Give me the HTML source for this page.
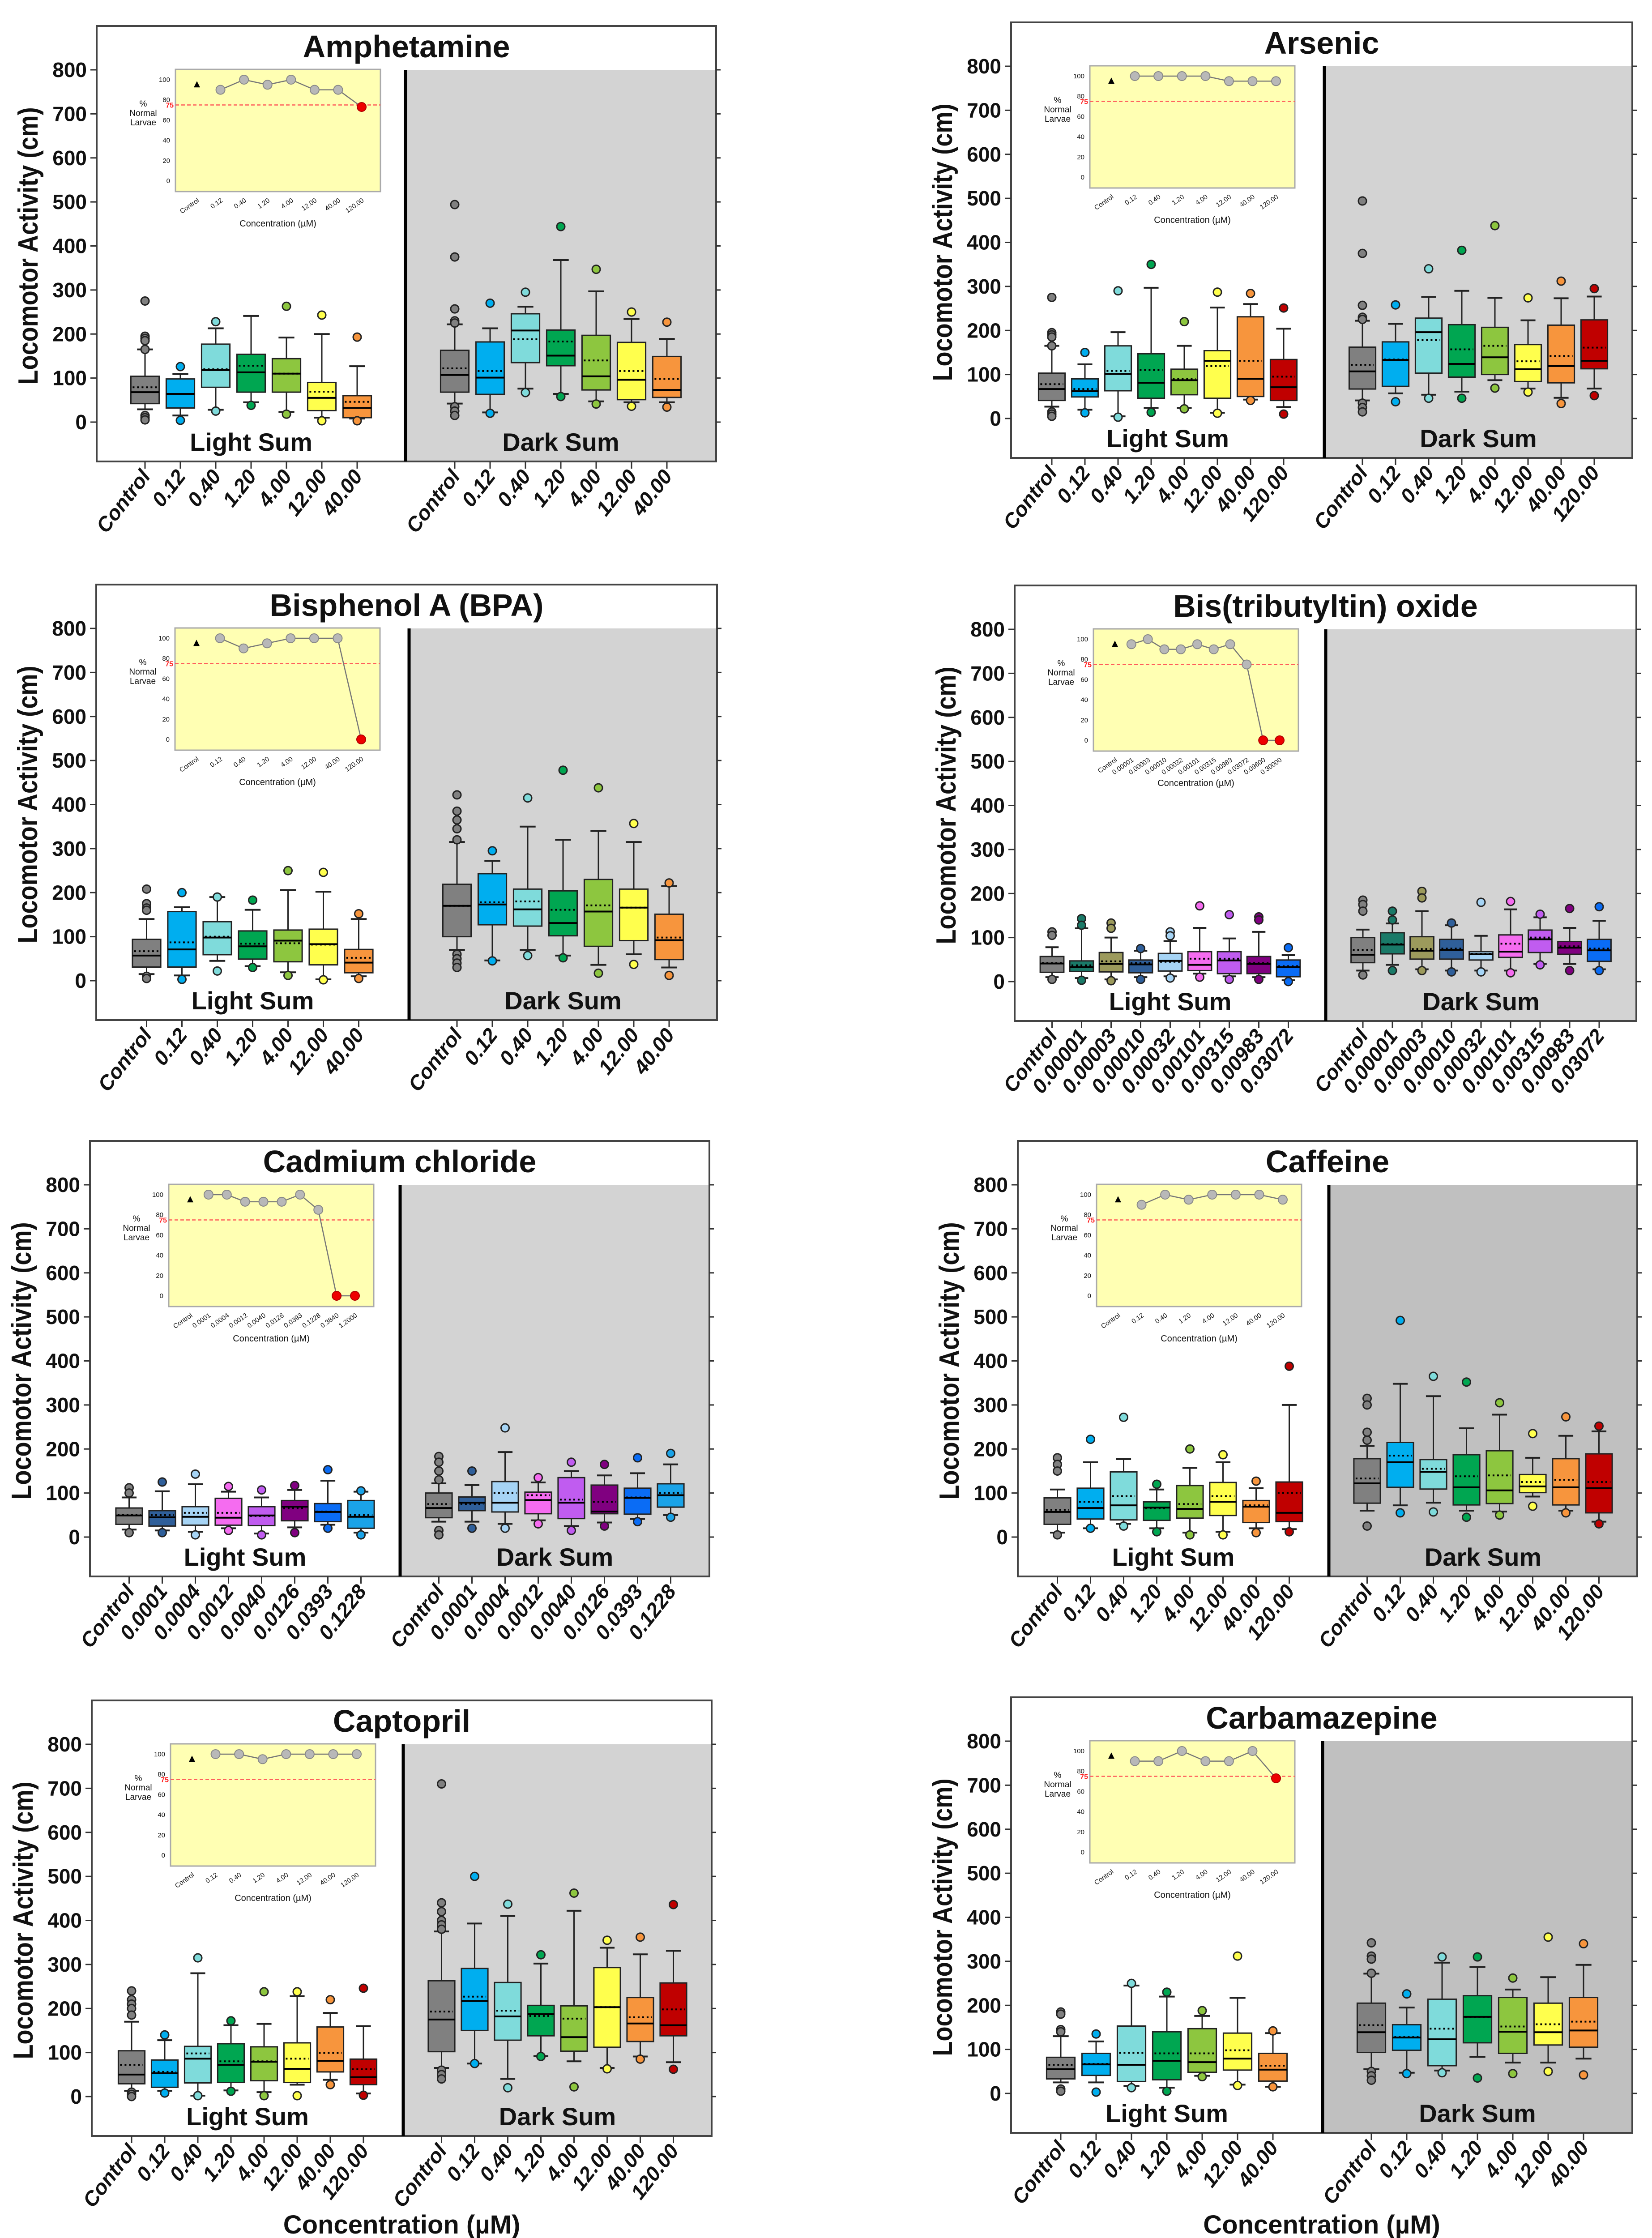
<!DOCTYPE html>
<html><head><meta charset="utf-8"><style>
html,body{margin:0;padding:0;background:#fff;width:3691px;height:5057px;overflow:hidden;}
svg{display:block;position:absolute;left:0;top:0;}
text{font-family:"Liberation Sans Narrow","Liberation Sans",sans-serif;font-weight:bold;fill:#111;}
</style></head><body>
<svg id="fig" xmlns="http://www.w3.org/2000/svg" width="3691" height="5057" viewBox="0 0 3691 5057" overflow="hidden">
<rect x="0" y="0" width="3691" height="5057" fill="#fff"/>
</svg>
<script>
// ---------- data: [q1, median, q3, whiskerLow, whiskerHigh, mean, [outliers]] ----------
const yTicks = [0,100,200,300,400,500,600,700,800];
const insetYTicks = [0,20,40,60,80,100];
const cats7 = ["Control","0.12","0.40","1.20","4.00","12.00","40.00"];
const cats8 = ["Control","0.12","0.40","1.20","4.00","12.00","40.00","120.00"];
const insetCats8 = ["Control","0.12","0.40","1.20","4.00","12.00","40.00","120.00"];
const catsBis = ["Control","0.00001","0.00003","0.00010","0.00032","0.00101","0.00315","0.00983","0.03072"];
const insetCatsBis = ["Control","0.00001","0.00003","0.00010","0.00032","0.00101","0.00315","0.00983","0.03072","0.09600","0.30000"];
const catsCad = ["Control","0.0001","0.0004","0.0012","0.0040","0.0126","0.0393","0.1228"];
const insetCatsCad = ["Control","0.0001","0.0004","0.0012","0.0040","0.0126","0.0393","0.1228","0.3840","1.2000"];

const colorsStd = ["#808080","#00aeef","#7fdbdb","#00a651","#8dc63f","#ffff4d","#f7953d","#c00000"];
const colorsBis = ["#808080","#1a7a68","#9c9a5c","#2f5f9a","#a6d4f5","#f56cf0","#c05cf0","#800080","#0a6cf5"];
const colorsCad = ["#808080","#2f5f9a","#a6d4f5","#f56cf0","#c05cf0","#800080","#0a6cf5","#1aa3e8"];

const ampLight = [[42,68,104,29,165,79,[275,195,190,185,165,15,10,5]],[32,64,98,15,109,64,[126,4]],[79,118,177,28,213,120,[228,25]],[68,113,154,45,241,128,[38]],[68,110,144,23,192,110,[263,18]],[26,55,90,10,200,69,[243,3]],[10,32,60,8,127,46,[193,3]]];
const ampDark = [[68,107,163,42,222,122,[494,375,257,230,225,35,25,15]],[63,101,182,22,213,116,[270,20]],[135,208,246,76,262,188,[295,67]],[128,151,209,64,368,183,[444,58]],[73,104,197,47,297,140,[347,41]],[51,96,181,45,234,116,[250,36]],[56,73,149,45,189,98,[227,34]]];
const ampInset = [95,90,100,95,100,90,90,73];

const arsLight = [[41,67,103,27,165,78,[275,195,190,185,165,15,10,5]],[49,62,90,20,123,67,[150,13]],[63,101,165,5,196,108,[290,3]],[46,81,147,24,297,110,[350,14]],[54,87,112,24,165,90,[220,22]],[46,131,154,13,252,119,[287,12]],[50,90,231,43,260,131,[284,41]],[41,71,134,26,204,95,[251,10]]];
const arsDark = [[67,107,162,41,222,122,[494,375,257,230,225,35,25,15]],[73,133,174,57,215,134,[258,38]],[103,196,228,54,276,178,[340,46]],[94,124,213,61,290,157,[382,46]],[100,139,207,87,274,165,[438,69]],[84,112,168,68,223,130,[274,60]],[81,119,212,47,273,142,[312,34]],[113,131,224,68,277,161,[295,52]]];
const arsInset = [95,100,100,100,100,95,95,95];

const bpaLight = [[31,57,94,15,140,67,[208,175,165,160,10,5]],[31,71,157,12,167,87,[200,3]],[59,98,134,45,190,100,[190,22]],[49,78,113,33,161,84,[183,30]],[43,91,115,19,206,85,[250,12]],[36,83,117,3,202,82,[246,2]],[18,41,71,10,140,52,[152,5]]];
const bpaDark = [[100,170,219,70,315,170,[422,385,365,345,320,60,50,40,30]],[127,173,243,46,272,178,[295,45]],[124,162,208,70,350,180,[415,57]],[102,131,204,57,320,161,[478,52]],[78,157,230,36,340,171,[438,17]],[91,166,208,60,315,166,[357,37]],[48,92,151,30,215,98,[222,12]]];
const bpaInset = [95,100,90,95,100,100,100,0];

const bisLight = [[21,41,57,10,78,42,[113,105,5]],[23,33,47,8,121,37,[143,128,3]],[22,40,66,5,100,46,[133,121,2]],[20,39,49,10,70,42,[75,5]],[24,47,64,12,92,45,[113,104,8]],[25,38,68,18,122,52,[172,10]],[18,48,68,12,98,52,[152,5]],[18,40,57,10,113,42,[147,140,5]],[11,33,49,3,60,35,[77,0]]];
const bisDark = [[43,61,100,25,118,72,[185,175,160,15]],[63,84,111,38,132,85,[160,140,25]],[51,70,102,28,160,74,[205,190,25]],[51,72,96,25,128,75,[133,22]],[49,62,68,25,104,63,[180,22]],[55,68,106,25,164,86,[182,20]],[66,96,117,40,146,100,[153,38]],[62,77,91,40,122,80,[166,25]],[46,71,96,28,138,75,[170,25]]];
const bisInset = [95,95,100,90,90,95,90,95,75,0,0];

const cadLight = [[29,49,66,17,90,50,[112,100,10]],[25,45,60,15,104,50,[125,10]],[27,46,69,12,120,55,[143,5]],[27,44,88,20,103,55,[115,15]],[26,49,69,8,90,48,[107,5]],[37,69,83,22,107,65,[117,10]],[35,57,76,28,128,58,[153,20]],[20,46,83,10,103,50,[105,5]]];
const cadDark = [[44,66,100,35,122,75,[183,170,150,130,15,5]],[60,78,91,35,118,75,[150,20]],[57,78,126,30,193,100,[248,20]],[53,84,102,38,124,95,[135,30]],[42,78,135,25,150,85,[170,15]],[53,58,118,33,140,80,[165,25]],[52,89,111,41,145,90,[180,35]],[68,95,121,50,165,100,[190,45]]];
const cadInset = [95,100,100,93,93,93,100,85,0,0];

const cafLight = [[29,57,89,10,108,62,[180,165,150,5]],[41,66,111,20,170,80,[222,20]],[39,72,148,30,177,93,[272,25]],[38,67,80,20,108,65,[120,12]],[43,64,117,10,157,75,[200,5]],[49,80,124,12,170,93,[187,5]],[33,69,83,20,111,72,[127,10]],[35,55,125,18,300,100,[388,12]]];
const cafDark = [[77,122,178,60,207,133,[315,300,238,220,25]],[113,170,215,72,348,185,[492,55]],[109,148,176,78,320,155,[365,57]],[73,113,187,60,247,138,[352,45]],[76,106,196,58,278,140,[305,50]],[101,115,142,92,180,125,[235,70]],[73,113,178,60,230,130,[273,55]],[55,111,189,35,240,125,[252,30]]];
const cafInset = [95,90,100,95,100,100,100,95];

const capLight = [[29,50,104,13,170,72,[240,220,210,200,185,10,5,0]],[21,53,83,13,128,56,[140,8]],[31,86,114,2,280,98,[315,2]],[32,72,120,14,162,80,[172,12]],[36,79,113,10,165,80,[238,2]],[32,63,122,27,228,86,[238,2]],[56,81,158,38,190,99,[220,27]],[27,44,85,7,160,62,[246,3]]];
const capDark = [[102,175,263,65,375,193,[710,440,420,400,390,380,60,50,40]],[150,217,291,75,393,227,[500,75]],[128,182,259,40,410,195,[437,20]],[138,187,207,92,302,183,[322,91]],[103,135,206,80,422,177,[462,22]],[112,203,293,65,338,203,[355,63]],[125,166,225,91,323,180,[362,85]],[138,162,258,78,331,198,[436,62]]];
const capInset = [95,100,100,95,100,100,100,100];

const carLight = [[33,55,82,25,130,65,[185,180,145,140,10,5]],[41,66,91,25,118,67,[135,3]],[27,65,153,17,245,92,[250,13]],[31,74,140,13,220,91,[230,5]],[48,71,147,40,176,91,[188,38]],[53,79,137,20,217,98,[312,18]],[28,54,91,15,137,63,[142,15]]];
const carDark = [[93,139,205,55,272,155,[342,312,305,273,50,40,30]],[98,127,156,47,195,128,[226,45]],[63,123,214,52,297,147,[310,47]],[115,174,222,83,287,173,[310,35]],[91,140,218,70,236,152,[262,45]],[110,139,205,70,264,157,[355,50]],[105,143,218,79,292,163,[340,42]]];
const carInset = [95,90,90,100,90,90,100,73];

// ---------- panel configs (geometry only) ----------
const panels = [
 {key:"amphetamine",title:"Amphetamine",L:216,T:58,D:906,R:1600,cats:cats7,light:ampLight,dark:ampDark,colors:colorsStd,icats:insetCats8,ivals:ampInset,bg:"#d3d3d3",xt:false},
 {key:"arsenic",title:"Arsenic",L:2259,T:50,D:2959,R:3647,cats:cats8,light:arsLight,dark:arsDark,colors:colorsStd,icats:insetCats8,ivals:arsInset,bg:"#d3d3d3",xt:false},
 {key:"bpa",title:"Bisphenol A (BPA)",L:215,T:1306,D:914,R:1602,cats:cats7,light:bpaLight,dark:bpaDark,colors:colorsStd,icats:insetCats8,ivals:bpaInset,bg:"#d3d3d3",xt:false},
 {key:"bis-tributyltin-oxide",title:"Bis(tributyltin) oxide",L:2267,T:1308,D:2962,R:3656,cats:catsBis,light:bisLight,dark:bisDark,colors:colorsBis,icats:insetCatsBis,ivals:bisInset,bg:"#d3d3d3",xt:false},
 {key:"cadmium-chloride",title:"Cadmium chloride",L:201,T:2549,D:894,R:1585,cats:catsCad,light:cadLight,dark:cadDark,colors:colorsCad,icats:insetCatsCad,ivals:cadInset,bg:"#d3d3d3",xt:false},
 {key:"caffeine",title:"Caffeine",L:2274,T:2549,D:2969,R:3658,cats:cats8,light:cafLight,dark:cafDark,colors:colorsStd,icats:insetCats8,ivals:cafInset,bg:"#c0c0c0",xt:false},
 {key:"captopril",title:"Captopril",L:205,T:3799,D:901,R:1590,cats:cats8,light:capLight,dark:capDark,colors:colorsStd,icats:insetCats8,ivals:capInset,bg:"#d3d3d3",xt:true},
 {key:"carbamazepine",title:"Carbamazepine",L:2259,T:3792,D:2955,R:3647,cats:cats7,light:carLight,dark:carDark,colors:colorsStd,icats:insetCats8,ivals:carInset,bg:"#c0c0c0",xt:true}
];

const NS = "http://www.w3.org/2000/svg";
const svg = document.getElementById("fig");
function mk(parent, tag, attrs, txt){
  const e = document.createElementNS(NS, tag);
  for (const k in attrs) e.setAttribute(k, attrs[k]);
  if (txt !== undefined) e.textContent = txt;
  parent.appendChild(e);
  return e;
}

function drawPanel(p){
  const g = mk(svg, "g", {});
  
  
  const B = p.T + 973;
  const y = v => p.T + 885 - v * (787/800);
  const fr = mk(g, "rect", {x:p.L, y:p.T, width:p.R-p.L, height:B-p.T, fill:"#fff", stroke:"#444", "stroke-width":4});
  
  
  const dk = mk(g, "rect", {x:p.D, y:y(800), width:p.R-p.D-2, height:B-y(800)-2, fill:p.bg});
  
  
  const dv = mk(g, "line", {x1:p.D, y1:y(800), x2:p.D, y2:B, stroke:"#000", "stroke-width":7});
  
  
  const tt = mk(g, "text", {x:(p.L+p.R)/2, y:p.T+70, "text-anchor":"middle", "font-size":70}, p.title);
  
  
  yTicks.forEach(v => {
    mk(g, "line", {x1:p.L-14, y1:y(v), x2:p.L, y2:y(v), stroke:"#333", "stroke-width":3});
    mk(g, "line", {x1:p.R, y1:y(v), x2:p.R+10, y2:y(v), stroke:"#333", "stroke-width":3});
    const tl = mk(g, "text", {x:p.L-22, y:y(v)+16, "text-anchor":"end", "font-size":46}, String(v));
    
    
  });
  const cy = (y(800)+y(0))/2;
  const yt = mk(g, "text", {x:0, y:0, transform:`translate(${p.L-132},${cy}) rotate(-90)`, "text-anchor":"middle", "font-size":62, textLength:620, lengthAdjust:"spacingAndGlyphs", style:'font-family:"Liberation Sans",sans-serif'}, "Locomotor Activity (cm)");
  
  

  drawInset(g, p);

  const n = p.cats.length;
  const s = n === 7 ? 79 : (n === 8 ? 74 : 66);
  const bw = s * 0.8;
  const lc = (p.L + p.D)/2, dc = (p.D + p.R)/2;
  const phases = [{c:lc, data:p.light, label:"Light Sum", nm:"light"}, {c:dc, data:p.dark, label:"Dark Sum", nm:"dark"}];
  phases.forEach(ph => {
    ph.data.forEach((d, i) => {
      const x = ph.c + (i - (n-1)/2) * s;
      const col = p.colors[i];
      const bg = mk(g, "g", {});
      
      
      const [q1, med, q3, wlo, whi, mean, outs] = d;
      mk(bg, "line", {x1:x, y1:y(q3), x2:x, y2:y(whi), stroke:"#222", "stroke-width":3});
      mk(bg, "line", {x1:x, y1:y(q1), x2:x, y2:y(wlo), stroke:"#222", "stroke-width":3});
      mk(bg, "line", {x1:x-bw*0.28, y1:y(whi), x2:x+bw*0.28, y2:y(whi), stroke:"#222", "stroke-width":4});
      mk(bg, "line", {x1:x-bw*0.28, y1:y(wlo), x2:x+bw*0.28, y2:y(wlo), stroke:"#222", "stroke-width":4});
      mk(bg, "rect", {x:x-bw/2, y:y(q3), width:bw, height:Math.max(1, y(q1)-y(q3)), fill:col, stroke:"#222", "stroke-width":3});
      mk(bg, "line", {x1:x-bw/2, y1:y(med), x2:x+bw/2, y2:y(med), stroke:"#000", "stroke-width":4});
      mk(bg, "line", {x1:x-bw/2+4, y1:y(mean), x2:x+bw/2-4, y2:y(mean), stroke:"#000", "stroke-width":4, "stroke-dasharray":"4 6"});
      outs.forEach(o => {
        const c = mk(bg, "circle", {cx:x, cy:y(o), r:9, fill:col, stroke:"#222", "stroke-width":3});
        
        
      });
      mk(g, "line", {x1:x, y1:B, x2:x, y2:B+16, stroke:"#333", "stroke-width":3});
      const xl = mk(g, "text", {x:0, y:0, transform:`translate(${x+14},${B+34}) rotate(-52)`, "text-anchor":"end", "font-size":46, "font-style":"italic", style:'font-family:"Liberation Sans",sans-serif'}, p.cats[i]);
      
      
    });
    const pl = mk(g, "text", {x:ph.c, y:y(0)+64, "text-anchor":"middle", "font-size":56}, ph.label);
    
    
  });

  if (p.xt) {
    const xa = mk(g, "text", {x:(p.L+p.R)/2, y:4990, "text-anchor":"middle", "font-size":58}, "Concentration (µM)");
    
    
  }
}

function drawInset(g, p){
  const IL = p.L + 176, IR = p.L + 634, IT = p.T + 97, IB = p.T + 370;
  const ig = mk(g, "g", {});
  
  
  mk(ig, "rect", {x:IL, y:IT, width:IR-IL, height:IB-IT, fill:"#ffffb3", stroke:"#aaa", "stroke-width":3});
  const iy = v => p.T + 346 - v * 2.26;
  insetYTicks.forEach(v => {
    mk(ig, "text", {x:IL-12, y:iy(v)+5, "text-anchor":"end", "font-size":15, style:"font-weight:normal"}, String(v));
  });
  mk(ig, "line", {x1:IL, y1:iy(75), x2:IR, y2:iy(75), stroke:"#ff5a5a", "stroke-width":2.5, "stroke-dasharray":"8 5"});
  mk(ig, "text", {x:IL-4, y:iy(75)+6, "text-anchor":"end", "font-size":16, style:"fill:#ff2020"}, "75");
  ["%","Normal","Larvae"].forEach((t, k) => {
    mk(ig, "text", {x:IL-72, y:p.T+180+k*21, "text-anchor":"middle", "font-size":19, style:"font-weight:normal"}, t);
  });
  const n = p.icats.length;
  const x0 = IL + 48, x1 = IR - 42;
  const ix = i => x0 + i * (x1 - x0) / (n - 1);
  p.icats.forEach((c, i) => {
    mk(ig, "text", {x:0, y:0, transform:`translate(${ix(i)+6},${IB+22}) rotate(-35)`, "text-anchor":"end", "font-size":15, style:"font-weight:normal"}, c);
  });
  mk(ig, "text", {x:(IL+IR)/2, y:IB+78, "text-anchor":"middle", "font-size":20, style:"font-weight:normal"}, "Concentration (µM)");
  let pts = [];
  for (let i = 1; i < n; i++) pts.push(ix(i) + "," + iy(p.ivals[i]));
  const pl = mk(ig, "polyline", {points:pts.join(" "), fill:"none", stroke:"#777", "stroke-width":2.5});
  
  
  const cx = ix(0), cyv = iy(p.ivals[0]);
  const tri = mk(ig, "polygon", {points:`${cx},${cyv-8} ${cx-7},${cyv+6} ${cx+7},${cyv+6}`, fill:"#000"});
  
  
  for (let i = 1; i < n; i++) {
    const v = p.ivals[i];
    const c = mk(ig, "circle", {cx:ix(i), cy:iy(v), r:10, fill: v < 75 ? "#ee0000" : "#b8b8b8", stroke: v < 75 ? "#b00000" : "#888", "stroke-width":2});
    
    
  }
}

panels.forEach(drawPanel);
</script>
</body></html>
